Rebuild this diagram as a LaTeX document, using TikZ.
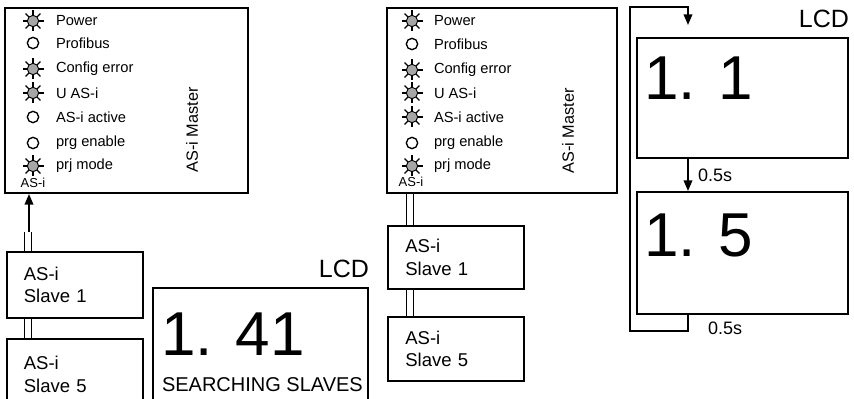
\documentclass[tikz,border=0pt]{standalone}
\usepackage{fontspec}
\setmainfont{Liberation Sans}
\usetikzlibrary{arrows.meta}

\tikzset{
  box/.style={draw, line width=1.5pt, inner sep=0pt},
  slave/.style={box, align=left, inner xsep=13pt, text width=76pt,
    font=\fontsize{13.9}{17}\selectfont},
  ledon/.style={circle, draw, line width=0.7pt, fill=black!35, minimum size=8.5pt, inner sep=0pt},
  ledoff/.style={circle, draw, line width=1pt, fill=white, minimum size=8.5pt, inner sep=0pt},
  ray/.style={line width=0.9pt},
  ledtxt/.style={anchor=west, inner sep=0pt, font=\fontsize{11}{12}\selectfont},
  mastertxt/.style={rotate=90, inner sep=0pt, font=\fontsize{12.2}{14}\selectfont},
  bustxt/.style={inner sep=0pt, font=\fontsize{9.75}{11}\selectfont},
  bus/.style={line width=1pt, double distance=4pt},
  digits/.style={anchor=base west, inner sep=0pt, font=\fontsize{46.5}{50}\selectfont},
  lcdtxt/.style={anchor=base east, inner sep=0pt, font=\fontsize{18.75}{20}\selectfont},
  timetxt/.style={anchor=west, inner sep=0pt, font=\fontsize{13.5}{15}\selectfont}
}

\begin{document}
\begin{tikzpicture}[x=0.75pt, y=-0.75pt, line width=1.5pt, >={Triangle[length=8pt,width=6.5pt]}]
\useasboundingbox (0,0) rectangle (854,399);

% left: master, slaves, lcd
\node[box, minimum width=182.25pt, minimum height=138.75pt] (masterA) at (126.5,100.5) {};
\foreach \y/\txt in {21/Power, 43/Profibus, 69/Config error, 93/U AS-i, 117/AS-i active, 143/prg enable, 166/prj mode}
  \node[ledtxt] at (55,\y) {\txt};
\foreach \y in {43,117,143}
  \node[ledoff] at (33,\y) {};
\foreach \y in {21,69,93,166} {
  \foreach \a in {0,45,...,315}
    \draw[ray] (33,\y) ++(\a:5) -- ++(\a:5.5);
  \node[ledon] at (33,\y) {};
}
\node[mastertxt] at (192,130) {AS-i Master};
\node[bustxt] (busA) at (33,183) {AS-i};

\node[slave, minimum height=49.5pt] (slaveA1) at (74.5,285) {AS-i\\Slave 1};
\node[slave, minimum height=53.25pt] (slaveA5) at (74.5,374.5) {AS-i\\Slave 5};
\coordinate (tapA) at (28,232);
\draw[bus] (tapA) -- (tapA |- slaveA1.north);
\draw[bus] (slaveA1.south -| tapA) -- (slaveA5.north -| tapA);
\draw[->, line width=1.2pt] ([xshift=0.75pt]tapA) -- ([xshift=0.75pt]tapA |- masterA.south);

\node[box, minimum width=161.25pt, minimum height=91.5pt] (lcd1) at (260.5,349) {};
\node[lcdtxt] at (370,277) {LCD};
\node[digits] at (160,355) {1. 41};
\node[anchor=base west, inner sep=0pt, font=\fontsize{15}{16}\selectfont] at (161,391) {SEARCHING SLAVES};

% middle: master and slaves
\node[box, minimum width=172.5pt, minimum height=138.75pt] (masterB) at (502,100.5) {};
\foreach \y/\txt in {21/Power, 44/Profibus, 70/Config error, 93/U AS-i, 117/AS-i active, 143/prg enable, 166/prj mode}
  \node[ledtxt] at (433,\y) {\txt};
\foreach \y in {44,143}
  \node[ledoff] at (412,\y) {};
\foreach \y in {21,70,93,117,166} {
  \foreach \a in {0,45,...,315}
    \draw[ray] (412,\y) ++(\a:5) -- ++(\a:5.5);
  \node[ledon] at (412,\y) {};
}
\node[mastertxt] at (568,131) {AS-i Master};
\node[bustxt] (busB) at (411,182) {AS-i};

\node[slave, minimum height=47.25pt] (slaveB1) at (456,257.5) {AS-i\\Slave 1};
\node[slave, minimum height=48pt] (slaveB5) at (456,349) {AS-i\\Slave 5};
\coordinate (tapB) at (410,0);
\draw[bus] (masterB.south -| tapB) -- (slaveB1.north -| tapB);
\draw[bus] (slaveB1.south -| tapB) -- (slaveB5.north -| tapB);

% right: lcd sequence
\node[box, minimum width=158.25pt, minimum height=90pt] (lcd2) at (742.5,98) {};
\node[box, minimum width=158.25pt, minimum height=91.5pt] (lcd3) at (742.5,253) {};
\node[lcdtxt] at (850,28) {LCD};
\node[digits] at (643,100) {1. 1};
\node[digits] at (643,257) {1. 5};
\coordinate (step) at (688,0);
\coordinate (loopbot) at (630,331);
\coordinate (looptop) at (630,7);
\draw[->, line width=1.2pt] (lcd2.south -| step) -- (lcd3.north -| step);
\node[timetxt] at (697,175) {0.5s};
\draw[->, line width=1.2pt, shorten >=9pt] (lcd3.south -| step) |- (loopbot) -- (looptop) -| (lcd2.north -| step);
\node[timetxt] at (707,328) {0.5s};
\end{tikzpicture}
\end{document}
